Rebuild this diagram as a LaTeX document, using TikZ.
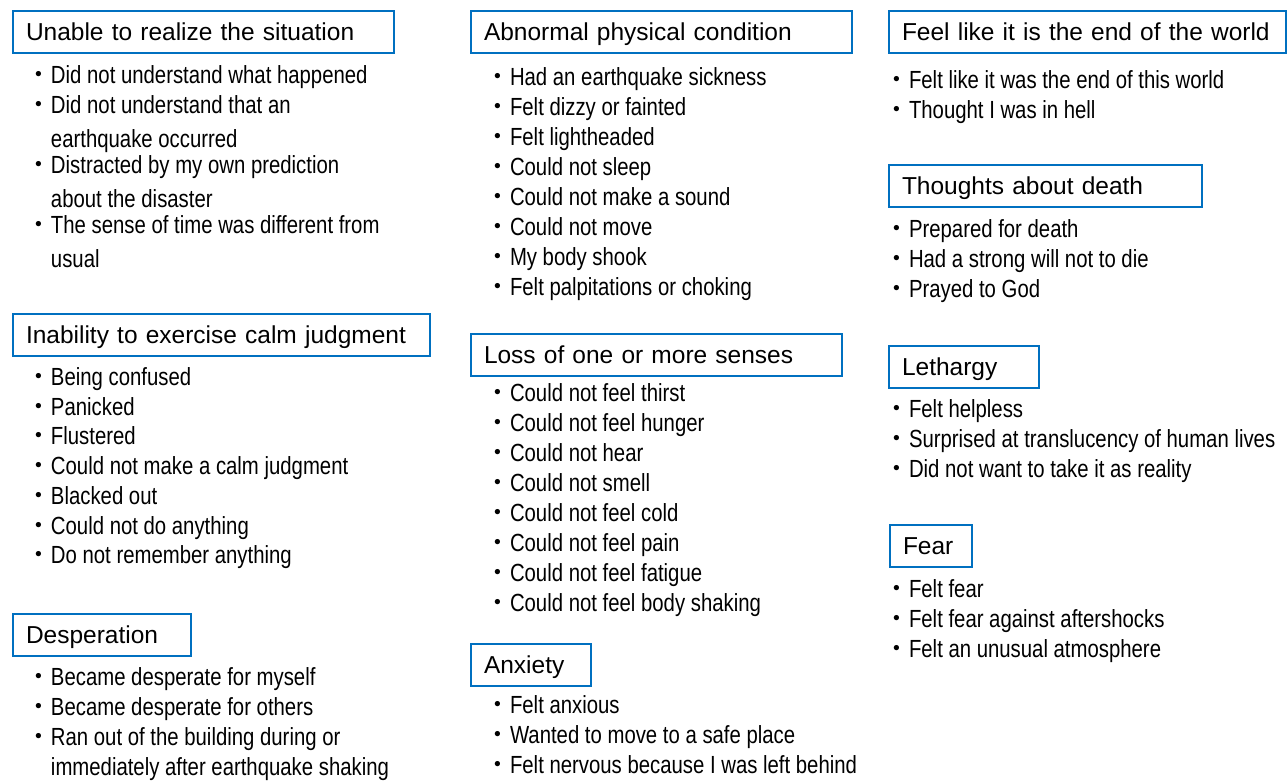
\documentclass[tikz,border=0pt]{standalone}
\usepackage{fontspec}
\setmainfont{Liberation Sans}
\newfontfamily\narrowfont[FakeStretch=0.82]{Liberation Sans}
\newfontfamily\cjk{Noto Sans CJK JP}
\definecolor{boxblue}{RGB}{0,112,192}
\newcommand{\bul}{{\cjk ・}}
\newcommand{\ind}{\hphantom{\bul}}

\tikzset{
  header/.style = {draw = boxblue, line width = 2pt, anchor = north west, align = left,
    inner xsep = 13pt, inner ysep = 0pt, minimum height = 42pt,
    text height = 17pt, text depth = 0pt, font = \fontsize{24.5}{30}\selectfont},
  item/.style = {anchor = base west, inner sep = 0pt,
    font = \narrowfont\fontsize{24.8}{30}\selectfont}
}

\begin{document}
\begin{tikzpicture}[x = 1pt, y = -1pt]
        \useasboundingbox (0, 0) rectangle (1288, 782);

        % left column
        \node [header, text width = 355pt] (unable) at (12, 10) {Unable to realize the situation};
        \foreach \y/\t [count = \i] in {83/{\bul Did not understand what happened},
            113/{\bul Did not understand that an}, 147/{\ind earthquake occurred},
            173/{\bul Distracted by my own prediction}, 207/{\ind about the disaster},
            233/{\bul The sense of time was different from}, 267/{\ind usual}} {
          \node [item] (unable-\i) at (26, \y) {\t};
        }

        \node [header, text width = 391pt] (inability) at (12, 313) {Inability to exercise calm judgment};
        \foreach \y/\t [count = \i] in {385/{Being confused}, 415/{Panicked}, 444/{Flustered},
            474/{Could not make a calm judgment}, 504/{Blacked out},
            534/{Could not do anything}, 563/{Do not remember anything}} {
          \node [item] (inability-\i) at (26, \y) {\bul\t};
        }

        \node [header, text width = 152pt] (desperation) at (12, 613) {Desperation};
        \foreach \y/\t [count = \i] in {685/{\bul Became desperate for myself},
            715/{\bul Became desperate for others}, 745/{\bul Ran out of the building during or},
            775/{\ind immediately after earthquake shaking}} {
          \node [item] (desperation-\i) at (26, \y) {\t};
        }

        % middle column
        \node [header, text width = 355pt] (abnormal) at (470, 10) {Abnormal physical condition};
        \foreach \t [count = \i] in {Had an earthquake sickness, Felt dizzy or fainted,
            Felt lightheaded, Could not sleep, Could not make a sound, Could not move,
            My body shook, Felt palpitations or choking} {
          \node [item] (abnormal-\i) at (485, {85 + 30 * (\i - 1)}) {\bul\t};
        }

        \node [header, text width = 345pt] (loss) at (470, 333) {Loss of one or more senses};
        \foreach \t [count = \i] in {Could not feel thirst, Could not feel hunger,
            Could not hear, Could not smell, Could not feel cold, Could not feel pain,
            Could not feel fatigue, Could not feel body shaking} {
          \node [item] (loss-\i) at (485, {401 + 30 * (\i - 1)}) {\bul\t};
        }

        \node [header, text width = 94pt] (anxiety) at (470, 643) {Anxiety};
        \foreach \t [count = \i] in {Felt anxious, Wanted to move to a safe place,
            Felt nervous because I was left behind} {
          \node [item] (anxiety-\i) at (485, {713 + 30 * (\i - 1)}) {\bul\t};
        }

        % right column
        \node [header, text width = 371pt] (endworld) at (888, 10) {\mbox{Feel like it is the end of the world}};
        \foreach \t [count = \i] in {Felt like it was the end of this world, Thought I was in hell} {
          \node [item] (endworld-\i) at (884, {88 + 30 * (\i - 1)}) {\bul\t};
        }

        \node [header, text width = 287pt] (death) at (888, 164) {Thoughts about death};
        \foreach \t [count = \i] in {Prepared for death, Had a strong will not to die, Prayed to God} {
          \node [item] (death-\i) at (884, {237 + 30 * (\i - 1)}) {\bul\t};
        }

        \node [header, text width = 124pt] (lethargy) at (888, 345) {Lethargy};
        \foreach \t [count = \i] in {Felt helpless, Surprised at translucency of human lives,
            Did not want to take it as reality} {
          \node [item] (lethargy-\i) at (884, {417 + 30 * (\i - 1)}) {\bul\t};
        }

        \node [header, text width = 56pt] (fear) at (889, 524) {Fear};
        \foreach \t [count = \i] in {Felt fear, Felt fear against aftershocks,
            Felt an unusual atmosphere} {
          \node [item] (fear-\i) at (884, {597 + 30 * (\i - 1)}) {\bul\t};
        }
      \end{tikzpicture}
\end{document}
